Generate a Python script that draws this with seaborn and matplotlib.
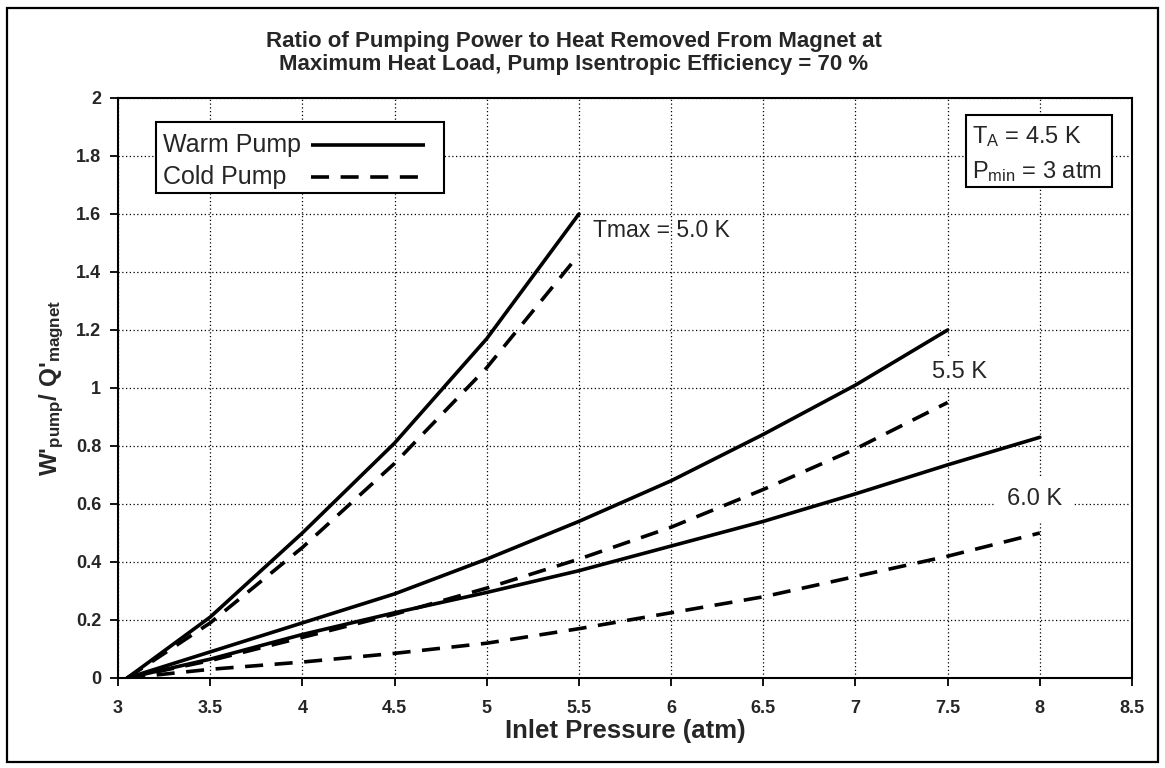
import matplotlib
matplotlib.use("Agg")
import matplotlib.pyplot as plt
from matplotlib.patches import Rectangle
import seaborn as sns
import pandas as pd

# ---- data ----
x_50 = [3.05, 3.5, 4.0, 4.5, 5.0, 5.5]
warm_50 = [0.0, 0.21, 0.50, 0.81, 1.17, 1.60]
cold_50 = [0.0, 0.19, 0.45, 0.74, 1.07, 1.46]

x_55 = [3.05, 3.5, 4.0, 4.5, 5.0, 5.5, 6.0, 6.5, 7.0, 7.5]
warm_55 = [0.0, 0.09, 0.19, 0.29, 0.41, 0.54, 0.68, 0.84, 1.01, 1.20]
cold_55 = [0.0, 0.06, 0.14, 0.22, 0.31, 0.41, 0.52, 0.65, 0.79, 0.95]

x_60 = [3.05, 3.5, 4.0, 4.5, 5.0, 5.5, 6.0, 6.5, 7.0, 7.5, 8.0]
warm_60 = [0.0, 0.065, 0.15, 0.225, 0.295, 0.37, 0.455, 0.54, 0.635, 0.735, 0.83]
cold_60 = [0.0, 0.03, 0.055, 0.085, 0.12, 0.17, 0.225, 0.28, 0.35, 0.42, 0.50]

x_ticks = [3, 3.5, 4, 4.5, 5, 5.5, 6, 6.5, 7, 7.5, 8, 8.5]
x_tick_labels = ["3", "3.5", "4", "4.5", "5", "5.5", "6", "6.5", "7", "7.5", "8", "8.5"]
y_ticks = [0, 0.2, 0.4, 0.6, 0.8, 1.0, 1.2, 1.4, 1.6, 1.8, 2.0]
y_tick_labels = ["0", "0.2", "0.4", "0.6", "0.8", "1", "1.2", "1.4", "1.6", "1.8", "2"]

legend_labels = ["Warm Pump", "Cold Pump"]

rows = []
for tmax, xs, w, c in [("5.0", x_50, warm_50, cold_50),
                       ("5.5", x_55, warm_55, cold_55),
                       ("6.0", x_60, warm_60, cold_60)]:
    for xi, yi in zip(xs, w):
        rows.append({"p": xi, "r": yi, "pump": "Warm Pump", "tmax": tmax})
    for xi, yi in zip(xs, c):
        rows.append({"p": xi, "r": yi, "pump": "Cold Pump", "tmax": tmax})
df = pd.DataFrame(rows)

sns.set_theme(style="white")
plt.rcParams["font.family"] = ["Liberation Sans", "DejaVu Sans"]
plt.rcParams["mathtext.fontset"] = "custom"
plt.rcParams["mathtext.rm"] = "Liberation Sans"
plt.rcParams["mathtext.bf"] = "Liberation Sans:bold"
plt.rcParams["mathtext.it"] = "Liberation Sans:italic"

LW = 2.6
DASH = (5.0, 3.2)

fig = plt.figure(figsize=(11.65, 7.68), dpi=100)
ax = fig.add_axes([118 / 1165, 90 / 768, 1014 / 1165, 580 / 768])

sns.lineplot(data=df, x="p", y="r", hue="tmax", style="pump",
             palette=["black", "black", "black"],
             dashes={"Warm Pump": "", "Cold Pump": DASH},
             linewidth=LW, sort=False, estimator=None, legend=False, ax=ax)

ax.set_xlim(3, 8.5)
ax.set_ylim(0, 2)
ax.set_xticks(x_ticks)
ax.set_xticklabels(x_tick_labels, fontweight="bold", fontsize=13)
ax.set_yticks(y_ticks)
ax.set_yticklabels(y_tick_labels, fontweight="bold", fontsize=13)
ax.tick_params(axis="x", direction="out", length=6, width=1.3, color="black",
               bottom=True, pad=10)
ax.tick_params(axis="y", direction="out", length=6, width=1.3, color="black",
               left=True, pad=6)
ax.grid(True, color="black", linestyle=(0, (1, 2)), linewidth=0.9)
for s in ax.spines.values():
    s.set_color("black")
    s.set_linewidth(1.5)

ax.set_xlabel("Inlet Pressure (atm)", fontsize=18.5, fontweight="bold", labelpad=1)
ax.set_ylabel(r"W'$_{\mathbf{pump}}$/ Q'$_{\mathbf{magnet}}$", fontsize=17.5,
              fontweight="bold", labelpad=7)
fig.text(574 / 1165, 1 - 53 / 768,
         "Ratio of Pumping Power to Heat Removed From Magnet at\n"
         "Maximum Heat Load, Pump Isentropic Efficiency = 70 %",
         fontsize=16, fontweight="bold", ha="center", va="center", linespacing=1.15)

# curve labels
ax.text(5.577, 1.542, "Tmax = 5.0 K", fontsize=16.5, ha="left", va="center")
ax.text(7.564, 1.055, "5.5 K", fontsize=17, ha="center", va="center",
        bbox=dict(facecolor="white", edgecolor="none", pad=2))
ax.text(7.969, 0.617, "6.0 K", fontsize=17, ha="center", va="center",
        bbox=dict(facecolor="white", edgecolor="none", pad=8))

# legend box (text left, line keys right)
ax.add_patch(Rectangle((0.0375, 0.836), 0.284, 0.1226, transform=ax.transAxes,
                       facecolor="white", edgecolor="black", linewidth=1.5, zorder=5))
leg_rows_y = [0.9195, 0.864]
for lab, yy, ls in zip(legend_labels, leg_rows_y, ["-", (0, DASH)]):
    ax.text(0.0444, yy, lab, transform=ax.transAxes, fontsize=18, ha="left",
            va="center", zorder=6)
    ax.plot([0.190, 0.303], [yy, yy], transform=ax.transAxes, color="black",
            lw=LW, ls=ls, zorder=6, solid_capstyle="butt", dash_capstyle="butt")

# conditions box
ax.add_patch(Rectangle((0.8363, 0.8466), 0.144, 0.1241, transform=ax.transAxes,
                       facecolor="white", edgecolor="black", linewidth=1.5, zorder=5))
ax.text(0.8420, 0.9333, "T$_\\mathrm{A}$ = 4.5 K", transform=ax.transAxes,
        fontsize=17, ha="left", va="center", zorder=6)
ax.text(0.8420, 0.8729, "P$_\\mathrm{min}$ = 3 atm", transform=ax.transAxes,
        fontsize=17, ha="left", va="center", zorder=6)

# outer frame
fig.patches.append(Rectangle((0.006, 0.008), 0.988, 0.982, transform=fig.transFigure,
                             fill=False, edgecolor="black", linewidth=1.6))

fig.savefig("out.png", dpi=100)
